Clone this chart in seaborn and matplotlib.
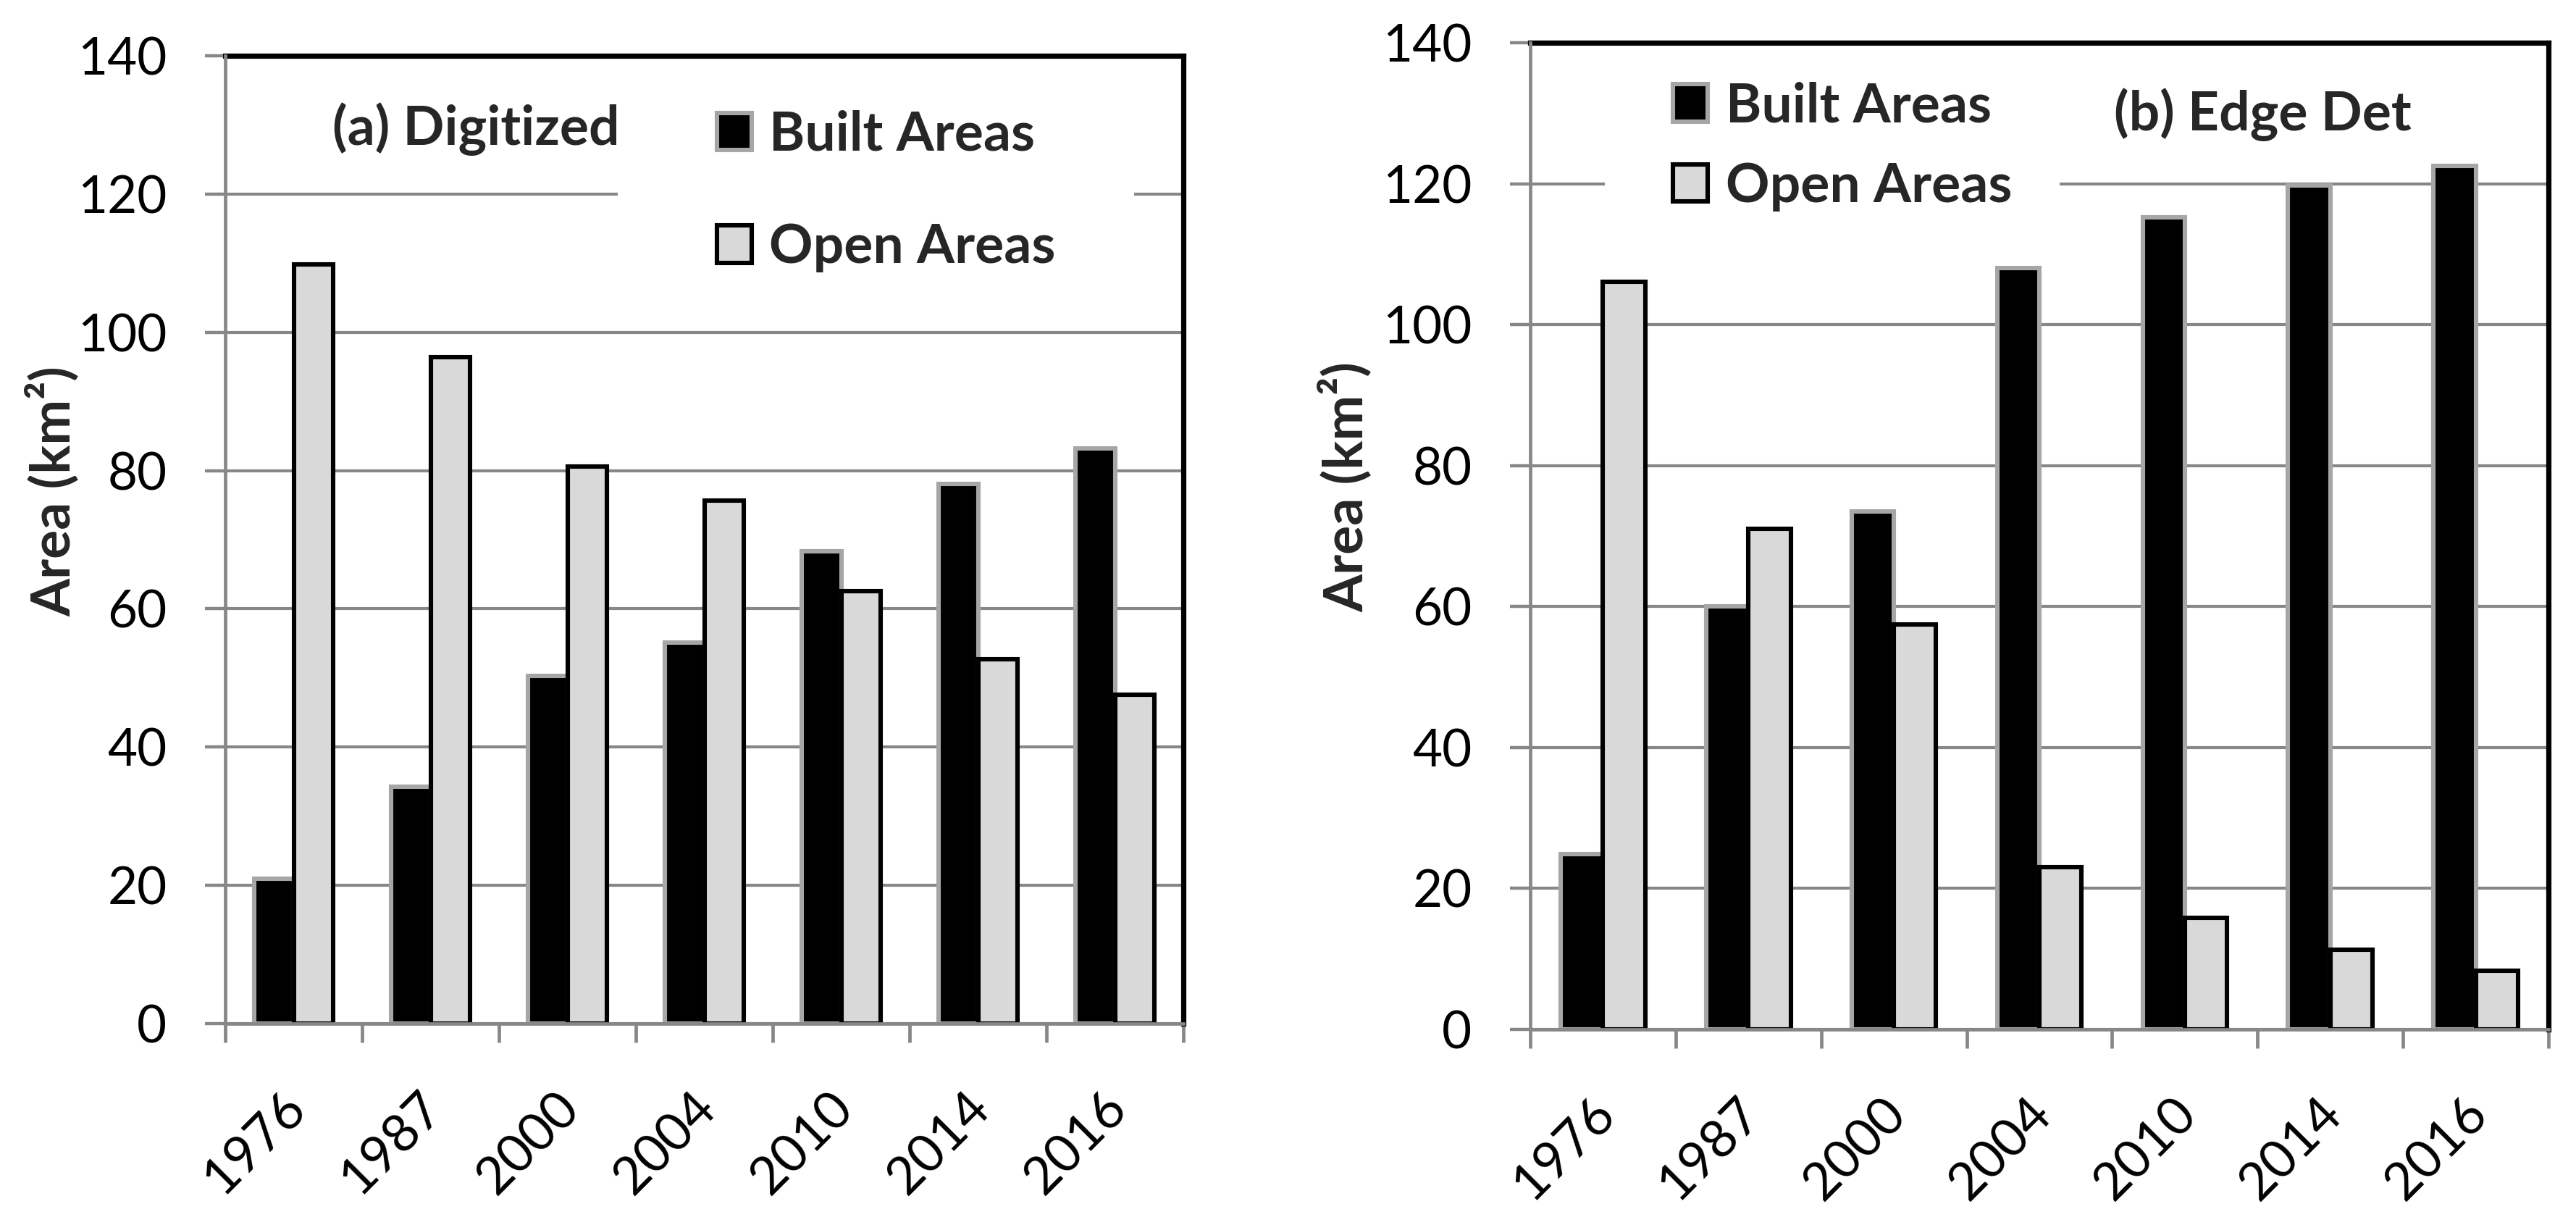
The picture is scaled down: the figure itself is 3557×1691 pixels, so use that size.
"""
Built vs open areas, two panels (digitized / edge detection)
"""

import matplotlib
matplotlib.use('Agg')
import matplotlib.pyplot as plt
import matplotlib.transforms as mtransforms
from matplotlib.patches import Patch, Rectangle
import seaborn as sns
import pandas as pd

# Daten
years = ['1976', '1987', '2000', '2004', '2010', '2014', '2016']
series = ['Built Areas', 'Open Areas']
built_digitized = [21.0, 34.3, 50.3, 55.1, 68.3, 78.1, 83.2]
open_digitized = [109.8, 96.4, 80.6, 75.7, 62.6, 52.7, 47.6]
built_edge = [24.9, 60.0, 73.5, 108.0, 115.2, 119.8, 122.5]
open_edge = [106.1, 71.0, 57.5, 23.0, 15.8, 11.3, 8.3]
y_ticks = [0, 20, 40, 60, 80, 100, 120, 140]

face = {'Built Areas': '#000000', 'Open Areas': '#d9d9d9'}
edge = {'Built Areas': '#a6a6a6', 'Open Areas': '#000000'}
GRID = '#878787'


def long_df(built, opened):
    return pd.DataFrame({
        'Year': years * 2,
        'Series': [series[0]] * len(years) + [series[1]] * len(years),
        'Area': built + opened,
    })


sns.set_theme(style='white')
plt.rcParams['font.family'] = ['Lato', 'DejaVu Sans']

fig = plt.figure(figsize=(3557 / 200, 1691 / 200), dpi=200)
ax_a = fig.add_axes([311 / 3557, 278 / 1691, 1323 / 3557, 1336 / 1691])
ax_b = fig.add_axes([2113 / 3557, 270 / 1691, 1406 / 3557, 1362 / 1691])

panels = [
    (ax_a, long_df(built_digitized, open_digitized), '(a) Digitized', (0.262, 0.924),
     (0.4097, 0.745, 0.539, 0.215), (0.513, 0.860), 1.15, -0.152),
    (ax_b, long_df(built_edge, open_edge), '(b) Edge Det', (0.719, 0.927),
     (0.0733, 0.815, 0.4467, 0.17), (0.140, 0.895), 0.55, -0.155),
]

for ax, df, title, title_xy, box, leg_xy, spacing, ylab_x in panels:
    sns.barplot(data=df, x='Year', y='Area', hue='Series', order=years,
                hue_order=series, palette=face, width=0.58, saturation=1,
                legend=False, ax=ax, zorder=2)
    for cont, name in zip(ax.containers, series):
        for bar in cont:
            bar.set_edgecolor(edge[name])
            bar.set_linewidth(2.2)

    ax.set_ylim(0, 140)
    ax.set_xlim(-0.5, len(years) - 0.5)
    ax.set_yticks(y_ticks)
    ax.set_axisbelow(True)
    ax.grid(axis='y', color=GRID, linewidth=1.5)
    ax.grid(axis='x', visible=False)

    # weisser Hintergrund der Legende (unterbricht die Gitterlinie)
    ax.add_patch(Rectangle(box[:2], box[2], box[3], transform=ax.transAxes,
                           facecolor='white', edgecolor='none', zorder=1))

    for side in ['top', 'right']:
        ax.spines[side].set_color('black')
        ax.spines[side].set_linewidth(2.6)
    for side in ['left', 'bottom']:
        ax.spines[side].set_color(GRID)
        ax.spines[side].set_linewidth(1.7)
        ax.spines[side].set_zorder(3)

    # Kategorie-Ticks zwischen den Jahren
    ax.set_xticks([i - 0.5 for i in range(len(years) + 1)], minor=True)
    ax.tick_params(axis='x', which='minor', length=9.5, width=1.7, color=GRID,
                   direction='out', bottom=True)
    ax.tick_params(axis='x', which='major', length=0, pad=38, labelsize=26,
                   labelcolor='black', bottom=True)
    ax.tick_params(axis='y', length=10, width=1.6, color=GRID, direction='out',
                   pad=19, labelsize=25.5, labelcolor='black', left=True)
    ax.set_xticks(range(len(years)))
    ax.set_xticklabels(years, rotation=45, ha='right', va='center',
                       rotation_mode='anchor')
    offset = mtransforms.ScaledTranslation(2 / 72, 0, fig.dpi_scale_trans)
    for lbl in ax.get_xticklabels():
        lbl.set_transform(lbl.get_transform() + offset)

    ax.set_xlabel('')
    ax.set_ylabel('Area (km²)', fontsize=27, fontweight='bold')
    ax.yaxis.set_label_coords(ylab_x, 0.55)

    ax.text(title_xy[0], title_xy[1], title, transform=ax.transAxes,
            ha='center', va='center', fontsize=27, fontweight='bold', zorder=4)

    handles = [Patch(facecolor=face[s], edgecolor=edge[s], linewidth=2.2, label=s)
               for s in series]
    ax.legend(handles=handles, loc='center left', bbox_to_anchor=leg_xy,
              frameon=False, prop={'weight': 'bold', 'size': 27},
              handlelength=0.64, handleheight=0.68, handletextpad=0.33,
              labelspacing=spacing, borderpad=0, borderaxespad=0)

fig.savefig('out.png', dpi=200)
plt.close(fig)
